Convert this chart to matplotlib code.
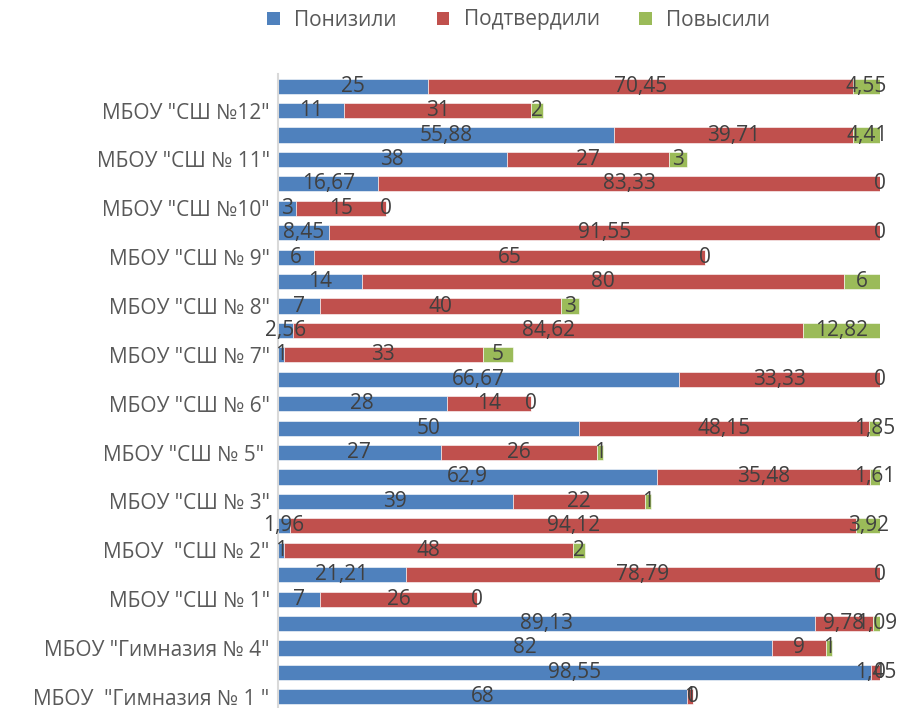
import numpy as np
import matplotlib.pyplot as plt
from matplotlib.patches import Patch

plt.rcParams['font.family'] = ['Open Sans', 'DejaVu Sans']

# Schools, top to bottom
schools = ['МБОУ "СШ №12"', 'МБОУ "СШ № 11"', 'МБОУ "СШ №10"', 'МБОУ "СШ № 9"',
           'МБОУ "СШ № 8"', 'МБОУ "СШ № 7"', 'МБОУ "СШ № 6"', 'МБОУ "СШ № 5" ',
           'МБОУ "СШ № 3"', 'МБОУ  "СШ № 2"', 'МБОУ "СШ № 1"',
           'МБОУ "Гимназия № 4"', 'МБОУ  "Гимназия № 1 "']

series = ['Понизили', 'Подтвердили', 'Повысили']
colors = ['#4F81BD', '#C0504D', '#9BBB59']

# Percentages (upper bar of each pair)
pct_down = [25, 55.88, 16.67, 8.45, 14, 2.56, 66.67, 50, 62.9, 1.96, 21.21, 89.13, 98.55]
pct_same = [70.45, 39.71, 83.33, 91.55, 80, 84.62, 33.33, 48.15, 35.48, 94.12, 78.79, 9.78, 1.45]
pct_up = [4.55, 4.41, 0, 0, 6, 12.82, 0, 1.85, 1.61, 3.92, 0, 1.09, 0]

# Counts (lower bar of each pair)
cnt_down = [11, 38, 3, 6, 7, 1, 28, 27, 39, 1, 7, 82, 68]
cnt_same = [31, 27, 15, 65, 40, 33, 14, 26, 22, 48, 26, 9, 1]
cnt_up = [2, 3, 0, 0, 3, 5, 0, 1, 1, 2, 0, 1, 0]


def fmt(v):
    return f"{v:g}".replace('.', ',')


fig = plt.figure(figsize=(9.04, 7.08), dpi=100)
ax = fig.add_axes([278 / 904, -1 / 708, 602 / 904, 635 / 708])

n = len(schools)
y_pct = np.arange(n) * 2
y_cnt = y_pct + 1

for ys, parts in [(y_pct, [pct_down, pct_same, pct_up]),
                  (y_cnt, [cnt_down, cnt_same, cnt_up])]:
    left = np.zeros(n)
    for vals, c in zip(parts, colors):
        vals = np.array(vals, dtype=float)
        bars = ax.barh(ys, vals, left=left, height=0.62, color=c,
                       edgecolor='white', linewidth=0.4)
        ax.bar_label(bars, labels=[fmt(v) for v in vals], label_type='center',
                     fontsize=15, color='#404040')
        left += vals

ax.set_xlim(0, 100)
ax.set_ylim(2 * n - 0.5, -0.5)
ax.set_yticks(y_cnt)
ax.set_yticklabels(schools, fontsize=15, color='#595959')
ax.tick_params(axis='y', length=0, pad=6)
ax.set_xticks([])
for s in ['top', 'right', 'bottom']:
    ax.spines[s].set_visible(False)
ax.spines['left'].set_color('#D9D9D9')
ax.spines['left'].set_linewidth(1.5)

handles = [Patch(facecolor=c, label=s) for s, c in zip(series, colors)]
fig.legend(handles=handles, loc='center', bbox_to_anchor=(0.574, 1 - 20 / 708),
           ncol=3, frameon=False, fontsize=15, handlelength=0.6, handleheight=0.6,
           handletextpad=0.7, columnspacing=1.9, labelcolor='#595959')

fig.savefig('out.png', dpi=100)
